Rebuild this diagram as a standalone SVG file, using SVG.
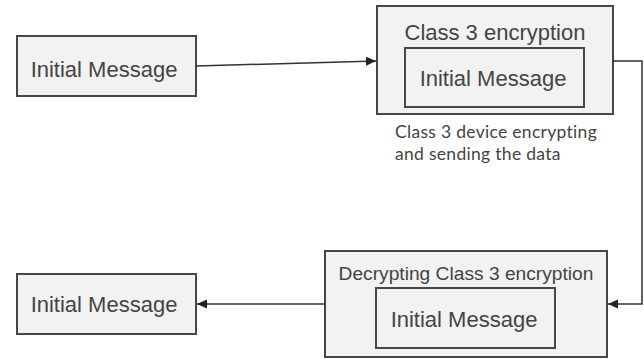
<svg xmlns="http://www.w3.org/2000/svg" width="644" height="359" viewBox="0 0 644 359">
<style>
.box{fill:#f2f2f2;stroke:#474747;stroke-width:2}
.t{font-family:"Liberation Sans",Arial,sans-serif;fill:#444;text-anchor:middle}
.note{font-family:Lato,"Liberation Sans",sans-serif;fill:#444;font-size:17.5px;letter-spacing:0.3px}
.c{fill:none;stroke:#333;stroke-width:1.5}
</style>
<defs>
<marker id="ah" viewBox="0 0 10 10" refX="10" refY="5" markerWidth="10" markerHeight="10" markerUnits="userSpaceOnUse" orient="auto">
<path d="M0,0.5 L10,5 L0,9.5 Z" fill="#222"/>
</marker>
</defs>
<rect width="644" height="359" fill="#fff"/>
<g id="n1">
<rect class="box" x="17" y="36" width="179" height="60"/>
<text class="t" x="104" y="77" font-size="22">Initial Message</text>
</g>
<g id="n2">
<rect class="box" x="377" y="6" width="236" height="108"/>
<text class="t" x="495" y="40" font-size="22">Class 3 encryption</text>
<rect class="box" x="405" y="48" width="179" height="59"/>
<text class="t" x="493" y="86" font-size="22">Initial Message</text>
</g>
<g id="label">
<text class="note" x="395" y="138">Class 3 device encrypting</text>
<text class="note" x="395" y="159.5">and sending the data</text>
</g>
<g id="n3">
<rect class="box" x="325" y="251" width="282" height="106"/>
<text class="t" x="466" y="280" font-size="19.2">Decrypting Class 3 encryption</text>
<rect class="box" x="376" y="288" width="179" height="60"/>
<text class="t" x="464" y="327" font-size="22">Initial Message</text>
</g>
<g id="n4">
<rect class="box" x="17" y="274" width="179" height="60"/>
<text class="t" x="104" y="312" font-size="22">Initial Message</text>
</g>
<g id="connectors">
<line class="c" x1="196" y1="66" x2="376" y2="61" marker-end="url(#ah)"/>
<polyline class="c" points="613,61 642,61 642,304 608,304" marker-end="url(#ah)"/>
<line class="c" x1="325" y1="304" x2="197" y2="304" marker-end="url(#ah)"/>
</g>
</svg>
